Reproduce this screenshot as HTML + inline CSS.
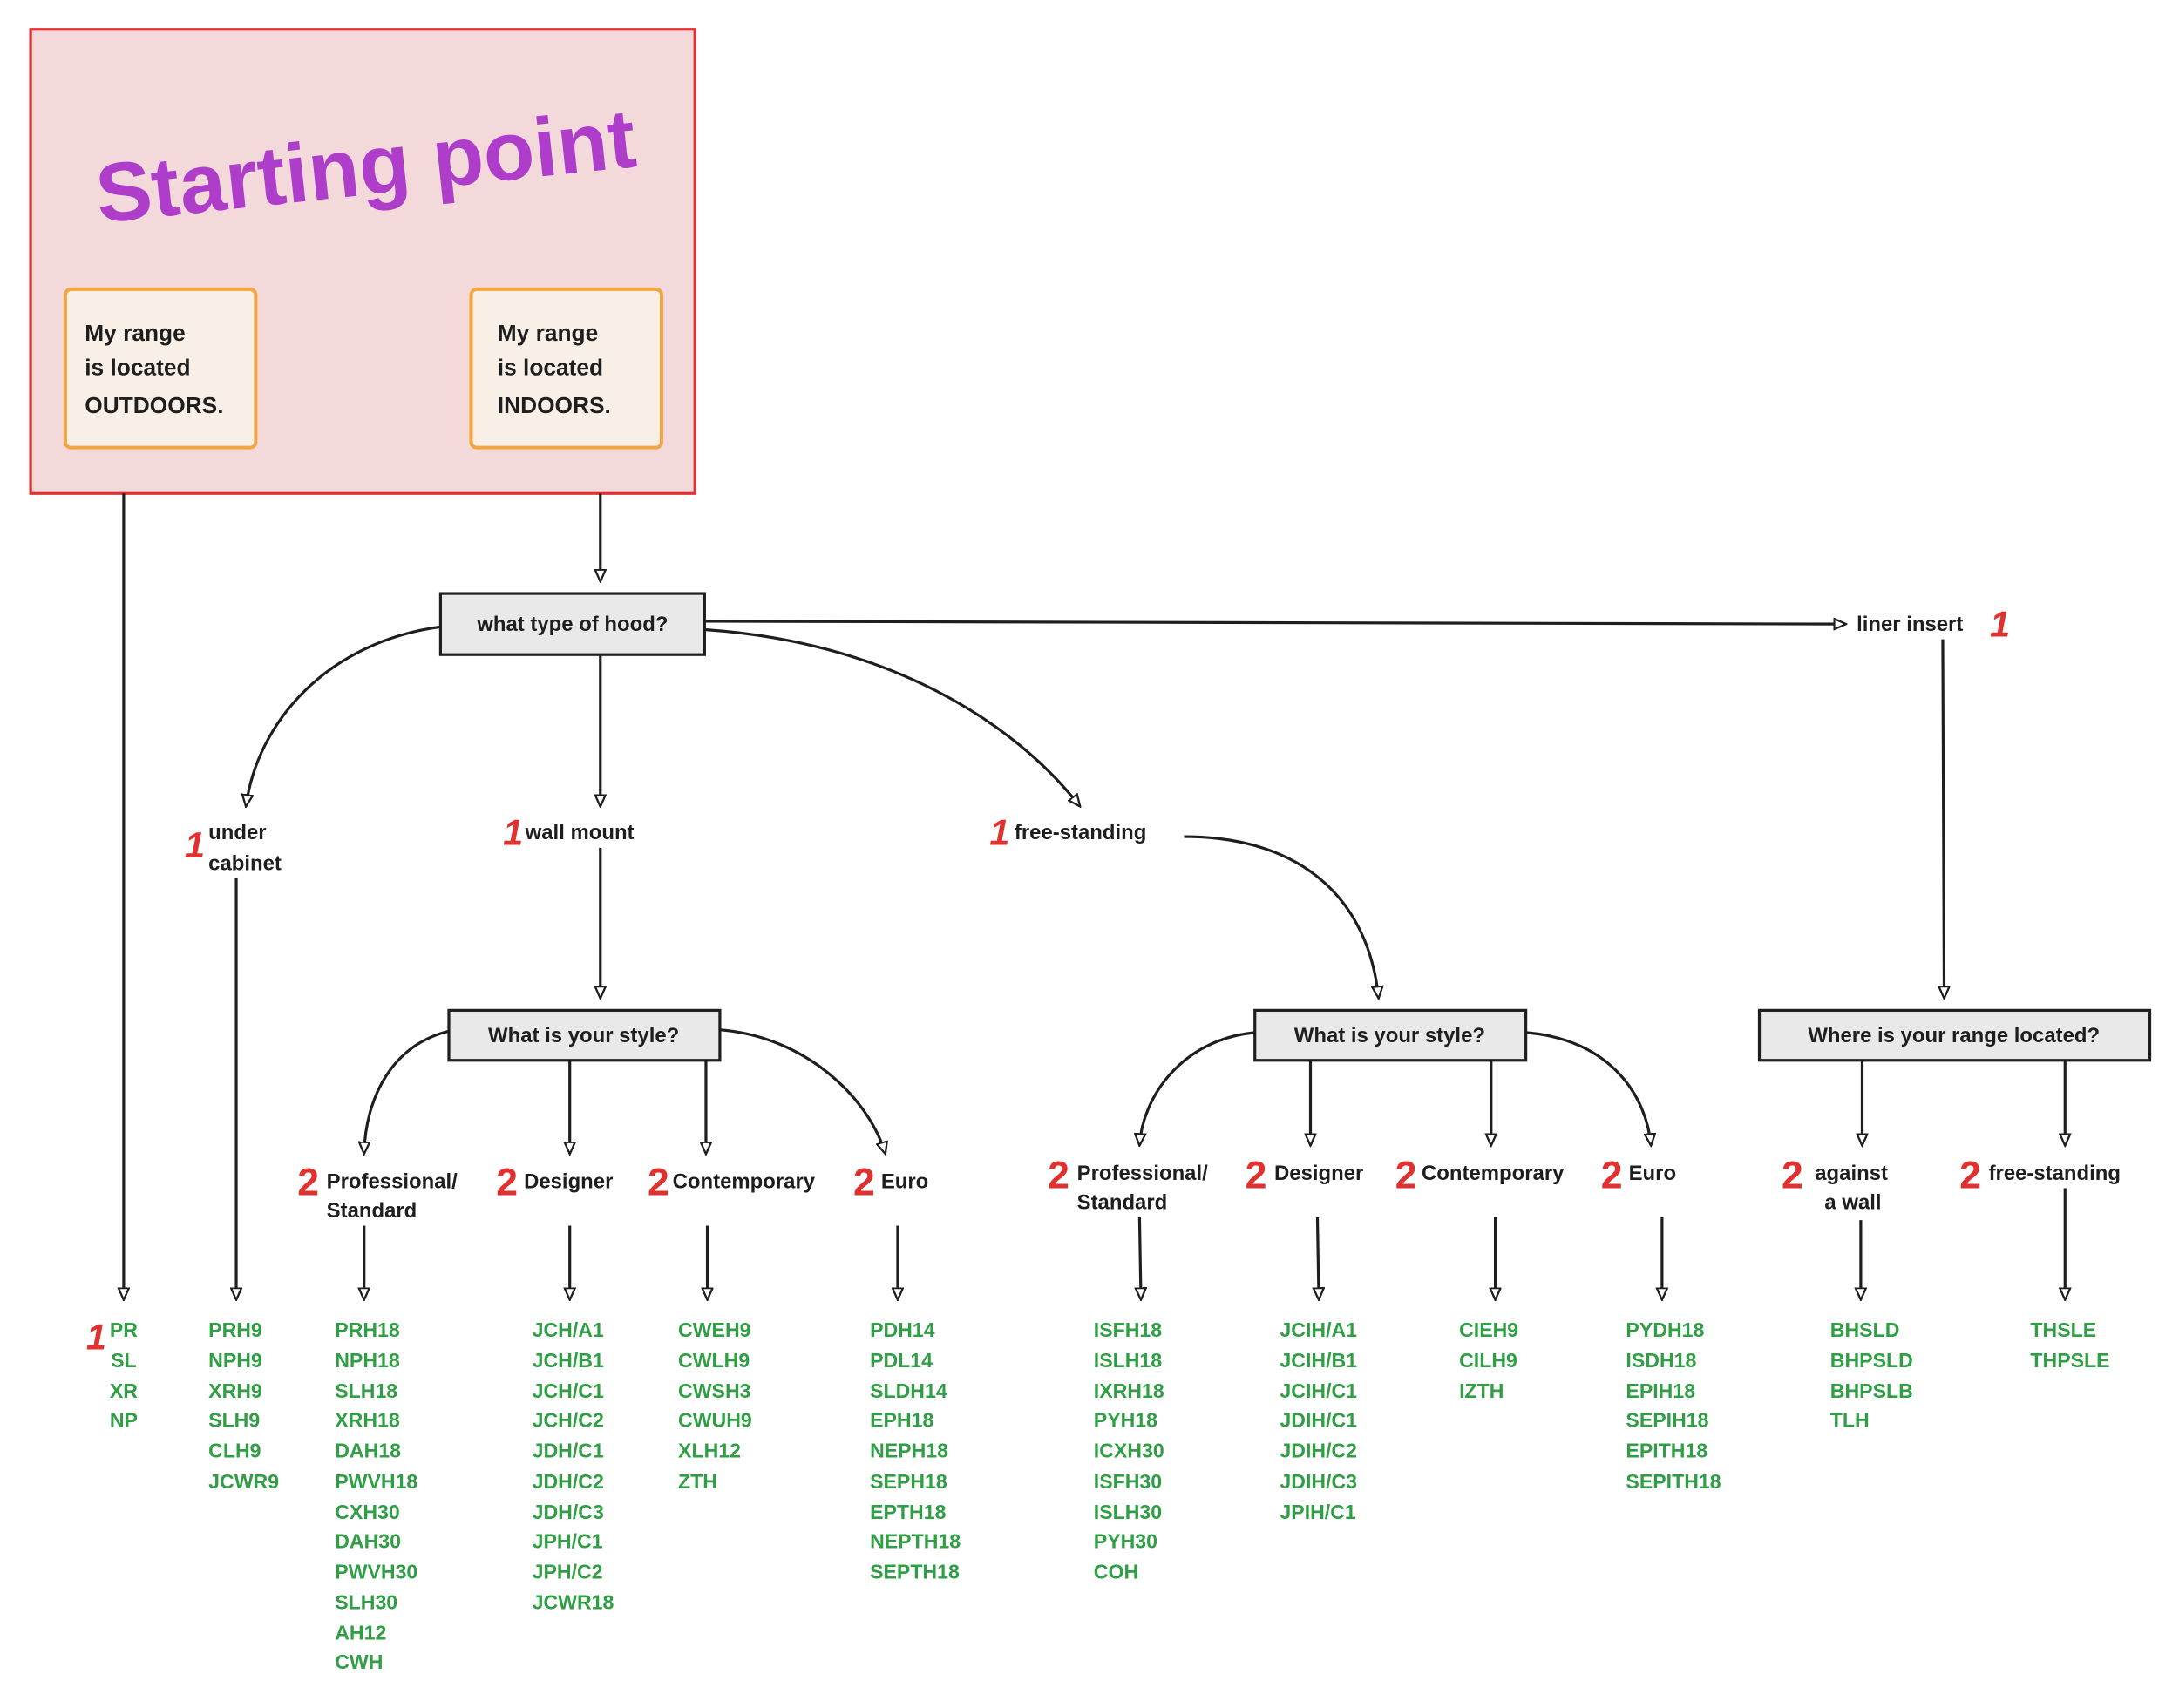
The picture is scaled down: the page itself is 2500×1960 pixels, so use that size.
<!DOCTYPE html>
<html><head><meta charset="utf-8"><style>
html,body{margin:0;padding:0;background:#fff;}
svg{display:block;}
text{font-family:"Liberation Sans","DejaVu Sans",sans-serif;}
.b{font-size:15px;fill:#1e1e1e;font-weight:bold;}
.g{font-size:14.5px;fill:#2f9e44;font-weight:bold;}
.r1{font-size:26px;fill:#e03131;font-weight:bold;font-style:italic;}
.r2{font-size:28px;fill:#e03131;font-weight:bold;}
.ln{stroke:#1e1e1e;stroke-width:2;fill:none;marker-end:url(#a);}
.bx{fill:#e9e9e9;stroke:#1e1e1e;stroke-width:2;}
</style></head><body>
<svg width="2500" height="1960" viewBox="0 0 1568 1229" xmlns="http://www.w3.org/2000/svg">
<defs><marker id="a" viewBox="0 0 10 10" refX="9" refY="5" markerWidth="10" markerHeight="9" orient="auto" markerUnits="userSpaceOnUse"><path d="M0,0.8 L9.5,5 L0,9.2 Z" fill="#fff" stroke="#1e1e1e" stroke-width="1.6"/></marker></defs>
<rect x="22" y="21" width="478" height="334" fill="#f4d9db" stroke="#e03131" stroke-width="2"/>
<text x="263" y="140" text-anchor="middle" transform="rotate(-6 263 118)" style="font-size:60px;font-weight:bold;fill:#ae3ec9;">Starting point</text>
<rect x="47" y="208" width="137" height="114" rx="4" fill="#f8f0e6" stroke="#f2a541" stroke-width="2.5"/>
<rect x="339" y="208" width="137" height="114" rx="4" fill="#f8f0e6" stroke="#f2a541" stroke-width="2.5"/>
<g class="b" style="font-size:16.5px">
<text x="61" y="245">My range</text><text x="61" y="270">is located</text><text x="61" y="297" style="font-weight:900">OUTDOORS.</text>
<text x="358" y="245">My range</text><text x="358" y="270">is located</text><text x="358" y="297" style="font-weight:900">INDOORS.</text>
</g>
<path class="ln" d="M89,355 L89,935"/>
<path class="ln" d="M432,355 L432,418"/>
<rect class="bx" x="317" y="427" width="190" height="44"/>
<text class="b" x="412" y="454" text-anchor="middle">what type of hood?</text>
<path class="ln" d="M507,447 L1328,449"/>
<text class="b" x="1336" y="454">liner insert</text><text class="r1" x="1432" y="458">1</text>
<path class="ln" d="M317,451 C235,462 185,520 177,580"/>
<path class="ln" d="M432,471 L432,580"/>
<path class="ln" d="M507,453 C640,462 730,520 777,580"/>
<text class="r1" x="133" y="617">1</text><text class="b" x="150" y="604">under</text><text class="b" x="150" y="626">cabinet</text>
<text class="r1" x="362" y="608">1</text><text class="b" x="378" y="604">wall mount</text>
<text class="r1" x="712" y="608">1</text><text class="b" x="730" y="604">free-standing</text>
<path class="ln" d="M170,632 L170,935"/>
<path class="ln" d="M432,610 L432,718"/>
<path class="ln" d="M852,602 C940,602 985,650 992,718"/>
<path class="ln" d="M1398,460 L1399,718"/>
<rect class="bx" x="323" y="727" width="195" height="36"/>
<text class="b" x="420" y="750" text-anchor="middle">What is your style?</text>
<rect class="bx" x="903" y="727" width="195" height="36"/>
<text class="b" x="1000" y="750" text-anchor="middle">What is your style?</text>
<rect class="bx" x="1266" y="727" width="281" height="36"/>
<text class="b" x="1406" y="750" text-anchor="middle">Where is your range located?</text>
<path class="ln" d="M323,742 C282,752 263,790 262,830"/>
<path class="ln" d="M410,763 L410,830"/>
<path class="ln" d="M508,763 L508,830"/>
<path class="ln" d="M518,741 C580,746 625,790 637,830"/>
<text class="r2" x="214" y="860">2</text><text class="b" x="235" y="855">Professional/</text><text class="b" x="235" y="876">Standard</text>
<text class="r2" x="357" y="860">2</text><text class="b" x="377" y="855">Designer</text>
<text class="r2" x="466" y="860">2</text><text class="b" x="484" y="855">Contemporary</text>
<text class="r2" x="614" y="860">2</text><text class="b" x="634" y="855">Euro</text>
<path class="ln" d="M262,882 L262,935"/><path class="ln" d="M410,882 L410,935"/>
<path class="ln" d="M509,882 L509,935"/><path class="ln" d="M646,882 L646,935"/>
<path class="ln" d="M903,743 C850,748 822,790 820,824"/>
<path class="ln" d="M943,763 L943,824"/>
<path class="ln" d="M1073,763 L1073,824"/>
<path class="ln" d="M1098,743 C1160,748 1185,790 1188,824"/>
<text class="r2" x="754" y="855">2</text><text class="b" x="775" y="849">Professional/</text><text class="b" x="775" y="870">Standard</text>
<text class="r2" x="896" y="855">2</text><text class="b" x="917" y="849">Designer</text>
<text class="r2" x="1004" y="855">2</text><text class="b" x="1023" y="849">Contemporary</text>
<text class="r2" x="1152" y="855">2</text><text class="b" x="1172" y="849">Euro</text>
<path class="ln" d="M1340,763 L1340,824"/><path class="ln" d="M1486,763 L1486,824"/>
<text class="r2" x="1282" y="855">2</text><text class="b" x="1306" y="849">against</text><text class="b" x="1313" y="870">a wall</text>
<text class="r2" x="1410" y="855">2</text><text class="b" x="1431" y="849">free-standing</text>
<path class="ln" d="M820,876 L821,935"/><path class="ln" d="M948,876 L949,935"/>
<path class="ln" d="M1076,876 L1076,935"/><path class="ln" d="M1196,876 L1196,935"/>
<path class="ln" d="M1339,878 L1339,935"/><path class="ln" d="M1486,855 L1486,935"/>
<text class="r1" x="62" y="971">1</text>
<g class="g">
<text x="89" y="962" text-anchor="middle">PR</text><text x="89" y="984" text-anchor="middle">SL</text><text x="89" y="1006" text-anchor="middle">XR</text><text x="89" y="1027" text-anchor="middle">NP</text>
</g>
<g class="g">
<text x="150" y="962">PRH9</text><text x="150" y="984">NPH9</text><text x="150" y="1006">XRH9</text><text x="150" y="1027">SLH9</text><text x="150" y="1049">CLH9</text><text x="150" y="1071">JCWR9</text>
<text x="241" y="962">PRH18</text><text x="241" y="984">NPH18</text><text x="241" y="1006">SLH18</text><text x="241" y="1027">XRH18</text><text x="241" y="1049">DAH18</text><text x="241" y="1071">PWVH18</text><text x="241" y="1093">CXH30</text><text x="241" y="1114">DAH30</text><text x="241" y="1136">PWVH30</text><text x="241" y="1158">SLH30</text><text x="241" y="1180">AH12</text><text x="241" y="1201">CWH</text>
<text x="383" y="962">JCH/A1</text><text x="383" y="984">JCH/B1</text><text x="383" y="1006">JCH/C1</text><text x="383" y="1027">JCH/C2</text><text x="383" y="1049">JDH/C1</text><text x="383" y="1071">JDH/C2</text><text x="383" y="1093">JDH/C3</text><text x="383" y="1114">JPH/C1</text><text x="383" y="1136">JPH/C2</text><text x="383" y="1158">JCWR18</text>
<text x="488" y="962">CWEH9</text><text x="488" y="984">CWLH9</text><text x="488" y="1006">CWSH3</text><text x="488" y="1027">CWUH9</text><text x="488" y="1049">XLH12</text><text x="488" y="1071">ZTH</text>
<text x="626" y="962">PDH14</text><text x="626" y="984">PDL14</text><text x="626" y="1006">SLDH14</text><text x="626" y="1027">EPH18</text><text x="626" y="1049">NEPH18</text><text x="626" y="1071">SEPH18</text><text x="626" y="1093">EPTH18</text><text x="626" y="1114">NEPTH18</text><text x="626" y="1136">SEPTH18</text>
<text x="787" y="962">ISFH18</text><text x="787" y="984">ISLH18</text><text x="787" y="1006">IXRH18</text><text x="787" y="1027">PYH18</text><text x="787" y="1049">ICXH30</text><text x="787" y="1071">ISFH30</text><text x="787" y="1093">ISLH30</text><text x="787" y="1114">PYH30</text><text x="787" y="1136">COH</text>
<text x="921" y="962">JCIH/A1</text><text x="921" y="984">JCIH/B1</text><text x="921" y="1006">JCIH/C1</text><text x="921" y="1027">JDIH/C1</text><text x="921" y="1049">JDIH/C2</text><text x="921" y="1071">JDIH/C3</text><text x="921" y="1093">JPIH/C1</text>
<text x="1050" y="962">CIEH9</text><text x="1050" y="984">CILH9</text><text x="1050" y="1006">IZTH</text>
<text x="1170" y="962">PYDH18</text><text x="1170" y="984">ISDH18</text><text x="1170" y="1006">EPIH18</text><text x="1170" y="1027">SEPIH18</text><text x="1170" y="1049">EPITH18</text><text x="1170" y="1071">SEPITH18</text>
<text x="1317" y="962">BHSLD</text><text x="1317" y="984">BHPSLD</text><text x="1317" y="1006">BHPSLB</text><text x="1317" y="1027">TLH</text>
<text x="1461" y="962">THSLE</text><text x="1461" y="984">THPSLE</text>
</g>
</svg>
</body></html>
